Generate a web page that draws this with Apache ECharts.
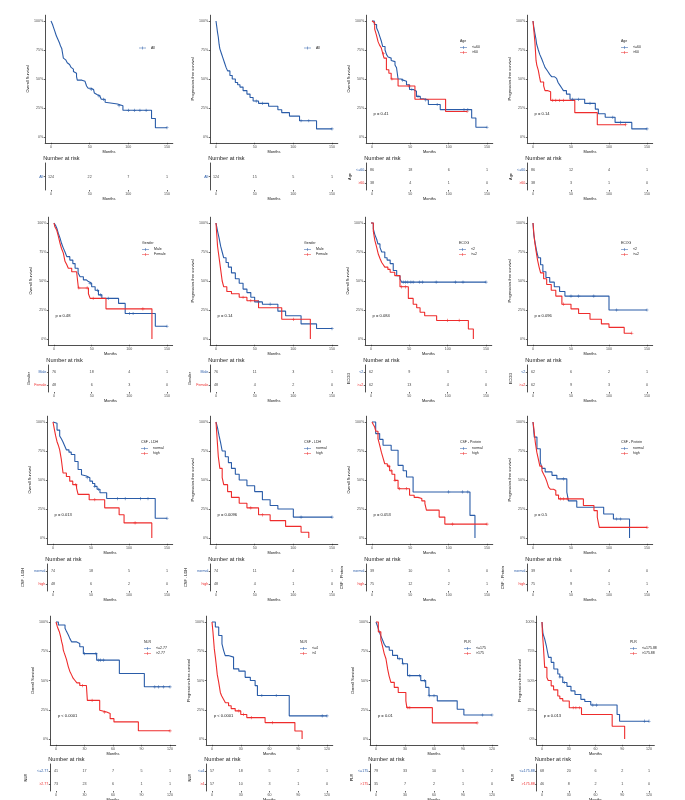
<!DOCTYPE html>
<html><head><meta charset="utf-8">
<script src="https://cdn.jsdelivr.net/npm/echarts@6/dist/echarts.min.js"></script>
<style>html,body{margin:0;padding:0;background:#fff}#c{width:685px;height:800px}</style>
</head><body><div id="c"></div>
<script>
// ---------------- DATA ----------------
// Panel 1: Overall survival, all patients
const os_all_t = [0,1,2,3,4,5,6,7,8,9,10,11,12,13,14,15,16,17,19,21,23,24,26,27,29,30,33,34,40,44,46,48,52,55,56,58,60,63,65,70,72,86,93,130,135];
const os_all_s = [1,0.99,0.97,0.95,0.935,0.91,0.89,0.87,0.855,0.84,0.825,0.81,0.79,0.78,0.76,0.72,0.68,0.665,0.655,0.64,0.625,0.61,0.6,0.585,0.565,0.55,0.52,0.49,0.48,0.47,0.44,0.42,0.41,0.395,0.38,0.365,0.355,0.34,0.325,0.30,0.285,0.27,0.23,0.16,0.08];
const os_all_c = [52,62,68,88,100,108,115,123,150];
// Panel 2: PFS, all patients
const pfs_all_t = [0,1,2,3,4,5,7,9,11,13,15,18,21,25,28,31,35,40,44,48,55,68,80,85,95,108,130];
const pfs_all_s = [1,0.95,0.9,0.86,0.8,0.76,0.72,0.68,0.64,0.6,0.57,0.53,0.5,0.47,0.45,0.43,0.4,0.37,0.34,0.31,0.29,0.265,0.235,0.21,0.18,0.14,0.07];
const pfs_all_c = [52,60,110,120,150];
// Panel 3: OS by age
const os_age1_t = [0,3,6,8,10,12,14,17,19,21,23,25,27,30,32,34,38,41,45,49,54,58,63,67,73.5,89,130,135.5];
const os_age1_s = [1,0.97,0.94,0.91,0.87,0.83,0.78,0.75,0.71,0.69,0.68,0.66,0.65,0.62,0.597,0.50,0.49,0.48,0.45,0.41,0.395,0.35,0.33,0.32,0.28,0.236,0.164,0.084];
const os_age1_c = [40,52,60,70,85,120,125,150];
const os_age2_t = [0,1.3,3.5,5.7,8,10,12,14,15.7,18.8,22,25,34,56,96];
const os_age2_s = [1,0.985,0.93,0.88,0.82,0.79,0.77,0.72,0.68,0.58,0.55,0.5,0.44,0.325,0.22];
const os_age2_c = [15,26,48,124];
// Panel 4: PFS by age
const pfs_age1_t = [0,1,2.6,4,4.8,7,9,11.4,14,15.8,18,20,22,24.5,28,31,33,35.5,38,40,44,48.7,68,82,86,95,108,130];
const pfs_age1_s = [1,0.95,0.89,0.84,0.80,0.75,0.71,0.675,0.63,0.60,0.58,0.56,0.54,0.52,0.505,0.49,0.47,0.445,0.42,0.40,0.37,0.325,0.29,0.24,0.20,0.17,0.126,0.07];
const pfs_age1_c = [52,60,75,105,115,150];
const pfs_age2_t = [0,1.3,2.5,4,5,7,8.5,10,14,15.8,19,23.2,55,84.6];
const pfs_age2_s = [1,0.905,0.82,0.66,0.62,0.575,0.52,0.474,0.44,0.40,0.39,0.316,0.21,0.106];
const pfs_age2_c = [26,30,35,40,122];
// Panel 5: OS by gender
const os_sex1_t = [0,2,4,5.8,8,10,12,14.6,17,21,25,28,32,34.6,39,43,45.7,50,54.6,59,63.5,85.7,94.5,134.5];
const os_sex1_s = [1,0.98,0.95,0.91,0.87,0.825,0.79,0.75,0.71,0.68,0.65,0.61,0.57,0.537,0.51,0.495,0.48,0.45,0.42,0.38,0.35,0.307,0.22,0.11];
const os_sex1_c = [48,58,62,72,100,105,150];
const os_sex2_t = [0,1,3.5,6,8,10,12.4,14.6,17,19,23.5,30,32.4,45.7,48,69,130];
const os_sex2_s = [1,0.97,0.94,0.88,0.825,0.78,0.74,0.67,0.64,0.61,0.58,0.57,0.44,0.39,0.35,0.26,0];
const os_sex2_c = [33,44,52,118];
// Panel 6: PFS by gender
const pfs_sex1_t = [0,2,4,6,8,10,13,16,20,25,30,35,40,45,50,60,80,90,110,130];
const pfs_sex1_s = [1,0.93,0.87,0.8,0.75,0.7,0.66,0.62,0.57,0.52,0.48,0.43,0.4,0.36,0.32,0.3,0.24,0.2,0.13,0.09];
const pfs_sex1_c = [55,70,150];
const pfs_sex2_t = [0,1,2,4,6,8,10,14,20,30,40,55,85,122];
const pfs_sex2_s = [1,0.9,0.8,0.7,0.6,0.5,0.45,0.41,0.39,0.36,0.33,0.27,0.17,0];
const pfs_sex2_c = [35,45,100];
// Panel 7: OS by ECOG
const os_ecog1_t = [0,3,5,7.4,9,11.7,14,18,21,25,29,33.5,37.8,40];
const os_ecog1_s = [1,0.95,0.90,0.86,0.82,0.79,0.75,0.70,0.68,0.65,0.59,0.546,0.517,0.49];
const os_ecog1_c = [42,45,48,52,55,63,67,85,110,120,150];
const os_ecog2_t = [0,3,5,7,9.6,12,14,16,18,22,25,31,37.8,48.7,55,59.6,64,70,85.6,127,133.5];
const os_ecog2_s = [1,0.93,0.85,0.8,0.73,0.69,0.66,0.64,0.62,0.6,0.575,0.546,0.45,0.35,0.30,0.27,0.23,0.20,0.16,0.086,0];
const os_ecog2_c = [40,45,100,115];
// Panel 8: PFS by ECOG
const pfs_ecog1_t = [0,1,3,5,7,10,13,17,22,28,35,42,100];
const pfs_ecog1_s = [1,0.9,0.82,0.75,0.7,0.64,0.58,0.53,0.49,0.45,0.41,0.37,0.25];
const pfs_ecog1_c = [50,60,80,110,150];
const pfs_ecog2_t = [0,1,2,4,6,8,10,14,18,24,30,38,50,60,75,90,100,120];
const pfs_ecog2_s = [1,0.92,0.85,0.76,0.68,0.62,0.57,0.52,0.47,0.42,0.37,0.3,0.26,0.22,0.17,0.13,0.1,0.05];
const pfs_ecog2_c = [40,130];
// Panel 9: OS by CSF-LDH
const os_ldh1_t = [0,2,5.3,8.8,11,13,15,17.6,21,24,28.7,33,37.5,40,44,48.5,52,55,58,61.8,70.6,134.5];
const os_ldh1_s = [1,0.99,0.93,0.88,0.855,0.83,0.8,0.76,0.74,0.72,0.66,0.59,0.546,0.535,0.52,0.49,0.47,0.445,0.42,0.39,0.34,0.17];
const os_ldh1_c = [45,55,60,85,95,115,125,150];
const os_ldh2_t = [0,2,3.5,5.3,7,8.8,11,13.2,17.6,22,26,31,33,47.6,68,87,93.5,130];
const os_ldh2_s = [1,0.93,0.88,0.83,0.80,0.76,0.675,0.56,0.53,0.49,0.46,0.43,0.376,0.33,0.26,0.20,0.13,0];
const os_ldh2_c = [30,55,108];
// Panel 10: PFS by CSF-LDH
const pfs_ldh1_t = [0,2,4,6,8,12,16,20,25,30,40,50,60,70,80,100];
const pfs_ldh1_s = [1,0.95,0.88,0.82,0.75,0.7,0.65,0.6,0.55,0.5,0.45,0.4,0.33,0.28,0.25,0.18];
const pfs_ldh1_c = [110,150];
const pfs_ldh2_t = [0,1,2,3,5,8,10,15,20,30,40,55,70,90,110,120];
const pfs_ldh2_s = [1,0.9,0.8,0.7,0.6,0.52,0.46,0.4,0.35,0.3,0.26,0.2,0.15,0.1,0.05,0];
const pfs_ldh2_c = [45,60];
// Panel 11: OS by CSF-Protein
const os_pro1_t = [0,4.8,10,14.4,25,34,40.6,45,53.6,127.8,134.3];
const os_pro1_s = [1,0.90,0.85,0.80,0.756,0.626,0.58,0.526,0.397,0.195,0];
const os_pro1_c = [100,118,125];
const os_pro2_t = [0,1.5,3.5,5,7.8,10,12.2,14,16.6,20,23,26,29.7,34,49,55,60,65,69,71,87.6,95];
const os_pro2_s = [1,0.98,0.957,0.92,0.856,0.80,0.74,0.70,0.64,0.62,0.58,0.55,0.497,0.425,0.368,0.35,0.34,0.32,0.296,0.24,0.18,0.12];
const os_pro2_c = [22,25,30,36,45,105,150];
// Panel 12: PFS by CSF-Protein
const pfs_pro1_t = [0,1.7,5.2,9.6,12,16,25,31.4,44.5,46.7,57.6,93,105.8,127];
const pfs_pro1_s = [1,0.87,0.77,0.654,0.6,0.57,0.54,0.51,0.395,0.32,0.265,0.207,0.164,0];
const pfs_pro1_c = [40,110,115];
const pfs_pro2_t = [0,0.9,3,5,7.4,9,11.8,14,16,18,20.5,23,27,30,33.6,66.3,80.2,84.6,87.2];
const pfs_pro2_s = [1,0.957,0.827,0.74,0.669,0.62,0.58,0.55,0.524,0.49,0.438,0.42,0.409,0.37,0.337,0.28,0.236,0.179,0.092];
const pfs_pro2_c = [36,40,45,150];
// Panel 13: OS by NLR
const os_nlr1_t = [0,2.5,9.5,11,13,14.5,16.5,21.8,25,28.8,42.8,66.7,93];
const os_nlr1_s = [1,0.974,0.946,0.92,0.889,0.86,0.83,0.817,0.789,0.73,0.674,0.56,0.446];
const os_nlr1_c = [30,42,45,47,50,104,108,113,120];
const os_nlr2_t = [0,1.4,3.5,5,6,7,7.7,8.5,9.5,11,13,14.5,16.5,18,20,22,25,32,33,46,48,53.3,57,61,86.7];
const os_nlr2_s = [1,0.96,0.917,0.87,0.83,0.80,0.76,0.74,0.717,0.68,0.617,0.58,0.546,0.52,0.50,0.48,0.457,0.443,0.33,0.246,0.23,0.217,0.174,0.146,0.07];
const os_nlr2_c = [28,38,51,120];
// Panel 14: PFS by NLR
const pfs_nlr1_t = [0,3.5,7,10.4,12,13.8,17,22.5,28,34.6,40,45,47.4,80.6];
const pfs_nlr1_s = [1,0.957,0.885,0.814,0.76,0.713,0.70,0.599,0.58,0.527,0.50,0.456,0.372,0.198];
const pfs_nlr1_c = [52,67,115,120];
const pfs_nlr2_t = [0,1,2.4,3.5,4.5,5.5,7,8.7,10,12,14,17.3,20,24.2,30,36.3,55.4,86.5,94];
const pfs_nlr2_s = [1,0.914,0.77,0.70,0.628,0.55,0.484,0.398,0.37,0.34,0.31,0.284,0.26,0.24,0.21,0.183,0.14,0.069,0];
const pfs_nlr2_c = [28,33,41,63];
// Panel 15: OS by PLR
const os_plr1_t = [0,1.7,3.4,5,6.9,8.5,10.3,13.7,17.1,22.3,27.4,32.6,46.3,51.4,54.8,63.4,84,90.9];
const os_plr1_s = [1,0.96,0.916,0.88,0.844,0.81,0.787,0.758,0.715,0.686,0.643,0.542,0.499,0.441,0.37,0.326,0.254,0.205];
const os_plr1_c = [24,28,35,45,50,55,60,110,120];
const os_plr2_t = [0,2.4,5,6.9,8.5,10.3,12,13.5,15.4,18.9,23,30.9,31.9,58.3];
const os_plr2_s = [1,0.916,0.85,0.787,0.73,0.686,0.599,0.54,0.484,0.441,0.398,0.326,0.268,0.138];
const os_plr2_c = [33,35,104.6];
// Panel 16: PFS by PLR
const pfs_plr1_t = [0,1.1,3,4.8,6,7.4,10.3,13.3,17.7,20,23.3,28,32.5,37,43.6,48,54.7,84.2,87];
const pfs_plr1_s = [1,0.90,0.856,0.799,0.75,0.698,0.655,0.598,0.555,0.53,0.483,0.45,0.411,0.38,0.339,0.32,0.29,0.21,0.152];
const pfs_plr1_c = [20,25,57,61,115,120];
const pfs_plr2_t = [0,0.4,1.5,3,5.5,7,10.3,13,17.7,20,23.3,30.6,44.3,78.7,92.7];
const pfs_plr2_s = [1,0.914,0.799,0.612,0.526,0.50,0.454,0.42,0.368,0.345,0.325,0.267,0.21,0.109,0];
const pfs_plr2_c = [35,38,42];

// Numbers at risk
const risk_os_all = [[124,22,7,1]];
const risk_pfs_all = [[124,15,5,1]];
const risk_os_age = [[86,18,6,1],[38,4,1,0]];
const risk_pfs_age = [[86,12,4,1],[38,3,1,0]];
const risk_os_sex = [[76,18,4,1],[48,6,3,0]];
const risk_pfs_sex = [[76,11,3,1],[48,4,2,0]];
const risk_os_ecog = [[62,9,3,1],[62,13,4,0]];
const risk_pfs_ecog = [[62,6,2,1],[62,9,3,0]];
const risk_os_ldh = [[74,18,5,1],[48,6,2,0]];
const risk_pfs_ldh = [[74,11,4,1],[48,4,1,0]];
const risk_os_pro = [[39,10,5,0],[75,12,2,1]];
const risk_pfs_pro = [[39,6,4,0],[75,9,1,1]];
const risk_os_nlr = [[41,17,7,5,1],[73,23,6,1,1]];
const risk_pfs_nlr = [[57,18,5,2,1],[57,10,3,1,0]];
const risk_os_plr = [[79,33,10,5,2],[35,7,2,1,0]];
const risk_pfs_plr = [[68,20,6,2,1],[46,8,2,1,0]];

// Tick labels
const ticks150 = [0,50,100,150];
const ticks120 = [0,30,60,90,120];
const yTicks = [0,0.25,0.5,0.75,1];

// Group labels / titles
const lab_all = ['All'];
const lab_age = ['<=60','>60'];
const lab_sex = ['Male','Female'];
const lab_ecog = ['<2','>=2'];
const lab_csf = ['normal','high'];
const lab_nlr_os = ['<=2.77','>2.77'];
const lab_nlr_pfs = ['<=4','>4'];
const lab_plr_os = ['<=175','>175'];
const lab_plr_pfs = ['<=175.88','>175.88'];
const pvals = [null,null,'p = 0.41','p = 0.14','p = 0.48','p = 0.14','p = 0.084','p = 0.096','p = 0.013','p = 0.0096','p = 0.053','p = 0.5','p < 0.0001','p < 0.0001','p = 0.01','p = 0.013'];

// ---------------- BUILD ----------------
const BLUE = '#2A5CA8', RED = '#EE2C2C';
const FONT = '"Liberation Sans", Arial, sans-serif';
function C(t,s,c){return {t:t,s:s,c:c};}
const panels = [
 {yname:'Overall Survival', curves:[C(os_all_t,os_all_s,os_all_c)], labels:lab_all, risk:risk_os_all, lt:null, tn:''},
 {yname:'Progression-free survival', curves:[C(pfs_all_t,pfs_all_s,pfs_all_c)], labels:lab_all, risk:risk_pfs_all, lt:null, tn:''},
 {yname:'Overall Survival', curves:[C(os_age1_t,os_age1_s,os_age1_c),C(os_age2_t,os_age2_s,os_age2_c)], labels:lab_age, risk:risk_os_age, lt:'Age', tn:'Age'},
 {yname:'Progression-free survival', curves:[C(pfs_age1_t,pfs_age1_s,pfs_age1_c),C(pfs_age2_t,pfs_age2_s,pfs_age2_c)], labels:lab_age, risk:risk_pfs_age, lt:'Age', tn:'Age'},
 {yname:'Overall Survival', curves:[C(os_sex1_t,os_sex1_s,os_sex1_c),C(os_sex2_t,os_sex2_s,os_sex2_c)], labels:lab_sex, risk:risk_os_sex, lt:'Gender', tn:'Gender'},
 {yname:'Progression-free survival', curves:[C(pfs_sex1_t,pfs_sex1_s,pfs_sex1_c),C(pfs_sex2_t,pfs_sex2_s,pfs_sex2_c)], labels:lab_sex, risk:risk_pfs_sex, lt:'Gender', tn:'Gender'},
 {yname:'Overall Survival', curves:[C(os_ecog1_t,os_ecog1_s,os_ecog1_c),C(os_ecog2_t,os_ecog2_s,os_ecog2_c)], labels:lab_ecog, risk:risk_os_ecog, lt:'ECOG', tn:'ECOG'},
 {yname:'Progression-free survival', curves:[C(pfs_ecog1_t,pfs_ecog1_s,pfs_ecog1_c),C(pfs_ecog2_t,pfs_ecog2_s,pfs_ecog2_c)], labels:lab_ecog, risk:risk_pfs_ecog, lt:'ECOG', tn:'ECOG'},
 {yname:'Overall Survival', curves:[C(os_ldh1_t,os_ldh1_s,os_ldh1_c),C(os_ldh2_t,os_ldh2_s,os_ldh2_c)], labels:lab_csf, risk:risk_os_ldh, lt:'CSF - LDH', tn:'CSF - LDH'},
 {yname:'Progression-free survival', curves:[C(pfs_ldh1_t,pfs_ldh1_s,pfs_ldh1_c),C(pfs_ldh2_t,pfs_ldh2_s,pfs_ldh2_c)], labels:lab_csf, risk:risk_pfs_ldh, lt:'CSF - LDH', tn:'CSF - LDH'},
 {yname:'Overall Survival', curves:[C(os_pro1_t,os_pro1_s,os_pro1_c),C(os_pro2_t,os_pro2_s,os_pro2_c)], labels:lab_csf, risk:risk_os_pro, lt:'CSF - Protein', tn:'CSF - Protein'},
 {yname:'Progression-free survival', curves:[C(pfs_pro1_t,pfs_pro1_s,pfs_pro1_c),C(pfs_pro2_t,pfs_pro2_s,pfs_pro2_c)], labels:lab_csf, risk:risk_pfs_pro, lt:'CSF - Protein', tn:'CSF - Protein'},
 {yname:'Overall Survival', curves:[C(os_nlr1_t,os_nlr1_s,os_nlr1_c),C(os_nlr2_t,os_nlr2_s,os_nlr2_c)], labels:lab_nlr_os, risk:risk_os_nlr, lt:'NLR', tn:'NLR'},
 {yname:'Progression-free survival', curves:[C(pfs_nlr1_t,pfs_nlr1_s,pfs_nlr1_c),C(pfs_nlr2_t,pfs_nlr2_s,pfs_nlr2_c)], labels:lab_nlr_pfs, risk:risk_pfs_nlr, lt:'NLR', tn:'NLR'},
 {yname:'Overall Survival', curves:[C(os_plr1_t,os_plr1_s,os_plr1_c),C(os_plr2_t,os_plr2_s,os_plr2_c)], labels:lab_plr_os, risk:risk_os_plr, lt:'PLR', tn:'PLR'},
 {yname:'Progression-free survival', curves:[C(pfs_plr1_t,pfs_plr1_s,pfs_plr1_c),C(pfs_plr2_t,pfs_plr2_s,pfs_plr2_c)], labels:lab_plr_pfs, risk:risk_pfs_plr, lt:'PLR', tn:'PLR'}
];

// layout (pixels)
const colX0 = [[51,216,372,533],[54,216,371,533],[53,216,372,533],[56,212,376,542]];
const colX1 = [[167,332,487,647],[167,332,486,647],[167,332,487,647],[170,327,492,649]];
const rowY100 = [21,223,422,622];
const rowY0 = [137,339,538,739];

const grids=[], xAxes=[], yAxes=[], series=[], legends=[], graphics=[];
const AX = {lineStyle:{color:'#222',width:0.8}, onZero:false};
const TK = {show:true,length:1.5,lineStyle:{color:'#222',width:0.7}};
const LBL = {fontSize:3.6,color:'#4D4D4D',fontFamily:FONT,margin:2};
const plus = 'path://M4,0h2v4h4v2h-4v4h-2v-4h-4v-2h4z';
const legIcon = 'path://M0,4.4h20v1.2h-20z M9.3,1h1.4v8h-1.4z';

function survAt(t,s,x){let v=s[0];for(let i=0;i<t.length;i++){if(t[i]<=x)v=s[i];}return v;}

panels.forEach((p,k)=>{
  const row=Math.floor(k/4), col=k%4;
  const ticks = row===3?ticks120:ticks150;
  const xm = ticks[ticks.length-1];
  const x0=colX0[row][col], x1=colX1[row][col];
  const y100=rowY100[row], y0=rowY0[row];
  const sx=(x1-x0)/xm, sy=(y0-y100);
  const left=x0-0.05*xm*sx, width=1.1*xm*sx;
  const gi=grids.length;
  grids.push({left:left,top:y100-0.05*sy,width:width,height:1.1*sy,outerBoundsMode:'none'});
  xAxes.push({gridIndex:gi,type:'value',min:-0.05*xm,max:1.05*xm,axisLine:AX,splitLine:{show:false},
    axisTick:Object.assign({customValues:ticks},TK),
    axisLabel:Object.assign({customValues:ticks},LBL),
    name:'Months',nameLocation:'middle',nameGap:7,nameTextStyle:{fontSize:3.9,color:'#111',fontFamily:FONT}});
  yAxes.push({gridIndex:gi,type:'value',min:-0.05,max:1.05,axisLine:AX,splitLine:{show:false},
    axisTick:Object.assign({customValues:yTicks},TK),
    axisLabel:Object.assign({customValues:yTicks,formatter:v=>Math.round(v*100)+'%'},LBL),
    name:p.yname,nameLocation:'middle',nameGap:13,nameTextStyle:{fontSize:3.9,color:'#111',fontFamily:FONT}});
  // risk grid
  const ri=grids.length;
  grids.push({left:left,top:y100+142,width:width,height:27,outerBoundsMode:'none'});
  xAxes.push({gridIndex:ri,type:'value',min:-0.05*xm,max:1.05*xm,axisLine:AX,splitLine:{show:false},
    axisTick:Object.assign({customValues:ticks},TK),
    axisLabel:Object.assign({customValues:ticks},LBL),
    name:'Months',nameLocation:'middle',nameGap:6.5,nameTextStyle:{fontSize:3.9,color:'#111',fontFamily:FONT}});
  const colors=[BLUE,RED];
  yAxes.push({gridIndex:ri,type:'category',inverse:true,data:p.labels,axisLine:AX,axisTick:{show:true,length:1.5,alignWithLabel:true,lineStyle:{color:'#222',width:0.7}},
    axisLabel:Object.assign({},LBL,{color:(v,i)=>colors[i]}),
    name:p.tn,nameLocation:'middle',nameGap:(p.labels[0].length>5?22:14),nameTextStyle:{fontSize:3.9,color:'#111',fontFamily:FONT}});
  // curves
  p.curves.forEach((c,j)=>{
    const pts=c.t.map((t,i)=>[t,c.s[i]]);
    const tEnd=Math.max(c.t[c.t.length-1],...c.c);
    if(tEnd>c.t[c.t.length-1]) pts.push([tEnd,c.s[c.s.length-1]]);
    series.push({type:'line',name:p.labels[j],xAxisIndex:gi,yAxisIndex:gi,step:'end',symbol:'none',data:pts,
      lineStyle:{color:colors[j],width:1.1},itemStyle:{color:colors[j]},silent:true,animation:false,z:3});
    series.push({type:'scatter',name:p.labels[j]+' censor',xAxisIndex:gi,yAxisIndex:gi,symbol:plus,symbolSize:3.2,
      data:c.c.map(x=>[x,survAt(c.t,c.s,x)]),itemStyle:{color:colors[j]},silent:true,animation:false,z:4});
  });
  // risk numbers
  const rd=[];
  p.risk.forEach((r,j)=>r.forEach((n,i)=>rd.push([ticks[i],j,n])));
  series.push({type:'scatter',name:'risk',xAxisIndex:ri,yAxisIndex:ri,symbolSize:1,data:rd,itemStyle:{color:'rgba(0,0,0,0)'},
    label:{show:true,position:'inside',formatter:q=>String(q.value[2]),fontSize:3.7,color:'#111',fontFamily:FONT},silent:true,animation:false});
  // legend
  legends.push({data:p.labels.map(n=>({name:n,icon:legIcon})),orient:'vertical',left:x0+88,top:y100+(p.lt?24.5:25),itemWidth:7,itemHeight:3.5,itemGap:1,padding:0,
    selectedMode:false,textStyle:{fontSize:3.5,color:'#222',fontFamily:FONT}});
  if(p.lt) graphics.push({type:'text',x:x0+88,y:y100+20,style:{text:p.lt,fill:'#222',font:'3.5px '+FONT,verticalAlign:'middle'}});
  graphics.push({type:'text',x:left-2,y:y100+137,style:{text:'Number at risk',fill:'#222',font:'5.6px '+FONT,verticalAlign:'middle'}});
  if(pvals[k]) graphics.push({type:'text',x:x0+2*sx,y:y100+0.8*sy,style:{text:pvals[k],fill:'#222',font:'4.1px '+FONT,verticalAlign:'middle'}});
});

const chart = echarts.init(document.getElementById('c'),null,{renderer:'canvas'});
chart.setOption({animation:false,backgroundColor:'#fff',textStyle:{fontFamily:FONT},
  grid:grids,xAxis:xAxes,yAxis:yAxes,series:series,legend:legends,graphic:graphics});
</script></body></html>
